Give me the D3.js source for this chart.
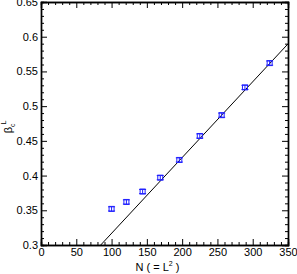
<!DOCTYPE html>
<html>
<head>
<meta charset="utf-8">
<script src="https://cdn.jsdelivr.net/npm/d3@7"></script>
<style>
  body { margin: 0; background: #fff; }
  svg { display: block; font-family: "Liberation Sans", Arial, sans-serif; }
</style>
</head>
<body>
<div class="card"></div>
<script>
var margin = { top: 2, right: 9, bottom: 29, left: 41 };
var width = 297 - margin.left - margin.right;
var height = 274 - margin.top - margin.bottom;

// data points, N = L^2
var nValues = [100, 121, 144, 169, 196, 225, 256, 289, 324];
var betaValues = [0.352, 0.362, 0.377, 0.397, 0.4225, 0.457, 0.487, 0.527, 0.562];
var betaErr = [0.003, 0.003, 0.003, 0.003, 0.003, 0.003, 0.003, 0.003, 0.003];
// straight fit line
var fitX = [84.6, 350];
var fitY = [0.3, 0.5897];

var xTicks = [0, 50, 100, 150, 200, 250, 300, 350];
var yTicks = [0.3, 0.35, 0.4, 0.45, 0.5, 0.55, 0.6, 0.65];

var svg = d3.select('.card')
  .append('svg')
  .attr('width', 297)
  .attr('height', 274)
  .append('g')
  .attr('transform', `translate(${margin.left}, ${margin.top})`);

var xScale = d3.scaleLinear().domain([0, 350]).range([0, width]);
var yScale = d3.scaleLinear().domain([0.3, 0.65]).range([height, 0]);

var clip = svg.append('clipPath').attr('id', 'clip')
  .append('rect').attr('width', width).attr('height', height);

function styleAxis(g) {
  g.selectAll('path').attr('stroke', '#000').attr('stroke-width', 1.4);
  g.selectAll('line').attr('stroke', '#000');
  g.selectAll('text').attr('font-size', 11).attr('fill', '#000');
}

var minorX = d3.range(0, 351, 10).filter(d => d % 50 != 0);
var minorY = d3.range(30, 66, 1).map(d => d / 100).filter(d => Math.round(d * 100) % 5 != 0);

// minor ticks (inward)
svg.append('g').attr('transform', `translate(0,${height})`)
  .call(d3.axisBottom(xScale).tickValues(minorX).tickSize(-3).tickFormat(''))
  .call(styleAxis);
svg.append('g')
  .call(d3.axisTop(xScale).tickValues(minorX).tickSize(-3).tickFormat(''))
  .call(styleAxis);
svg.append('g')
  .call(d3.axisLeft(yScale).tickValues(minorY).tickSize(-3).tickFormat(''))
  .call(styleAxis);
svg.append('g').attr('transform', `translate(${width},0)`)
  .call(d3.axisRight(yScale).tickValues(minorY).tickSize(-3).tickFormat(''))
  .call(styleAxis);

// major ticks
svg.append('g').attr('transform', `translate(0,${height})`)
  .call(d3.axisBottom(xScale).tickValues(xTicks).tickSize(-6).tickPadding(3).tickFormat(d3.format('d')))
  .call(styleAxis);
svg.append('g')
  .call(d3.axisTop(xScale).tickValues(xTicks).tickSize(-6).tickFormat(''))
  .call(styleAxis);
svg.append('g')
  .call(d3.axisLeft(yScale).tickValues(yTicks).tickSize(-6).tickPadding(3).tickFormat(d => d3.format('')(+d.toFixed(2))))
  .call(styleAxis);
svg.append('g').attr('transform', `translate(${width},0)`)
  .call(d3.axisRight(yScale).tickValues(yTicks).tickSize(-6).tickFormat(''))
  .call(styleAxis);

// fit line
svg.append('line')
  .attr('clip-path', 'url(#clip)')
  .attr('x1', xScale(fitX[0])).attr('y1', yScale(fitY[0]))
  .attr('x2', xScale(fitX[1])).attr('y2', yScale(fitY[1]))
  .attr('stroke', '#000').attr('stroke-width', 1);

// points with error bars
var pts = svg.selectAll('.pt')
  .data(nValues)
  .enter()
  .append('g')
  .attr('class', 'pt');

pts.append('line')
  .attr('x1', d => xScale(d)).attr('x2', d => xScale(d))
  .attr('y1', (d, i) => yScale(betaValues[i] - betaErr[i]))
  .attr('y2', (d, i) => yScale(betaValues[i] + betaErr[i]))
  .attr('stroke', '#2020ff');
[-1, 1].forEach(s => {
  pts.append('line')
    .attr('x1', d => xScale(d) - 3.5).attr('x2', d => xScale(d) + 3.5)
    .attr('y1', (d, i) => yScale(betaValues[i] + s * betaErr[i]))
    .attr('y2', (d, i) => yScale(betaValues[i] + s * betaErr[i]))
    .attr('stroke', '#2020ff');
});
pts.append('rect')
  .attr('x', d => xScale(d) - 2.5)
  .attr('y', (d, i) => yScale(betaValues[i]) - 2.5)
  .attr('width', 5).attr('height', 5)
  .attr('fill', 'none')
  .attr('stroke', '#2020ff');

// axis labels
var xl = svg.append('text')
  .attr('x', xScale(165)).attr('y', height + 26)
  .attr('text-anchor', 'middle')
  .attr('font-size', 11);
xl.append('tspan').text('N ( = L');
xl.append('tspan').attr('dy', -5).attr('font-size', 7).text('2');
xl.append('tspan').attr('dy', 5).text(' )');

var yl = svg.append('text')
  .attr('transform', `translate(${-29},${yScale(0.47)}) rotate(-90)`)
  .attr('text-anchor', 'middle')
  .attr('font-size', 11);
yl.append('tspan').text('β');
yl.append('tspan').attr('dy', 3).attr('font-size', 7).text('c');
yl.append('tspan').attr('dy', -9).attr('dx', -1).attr('font-size', 7).text('L');
</script>
</body>
</html>
